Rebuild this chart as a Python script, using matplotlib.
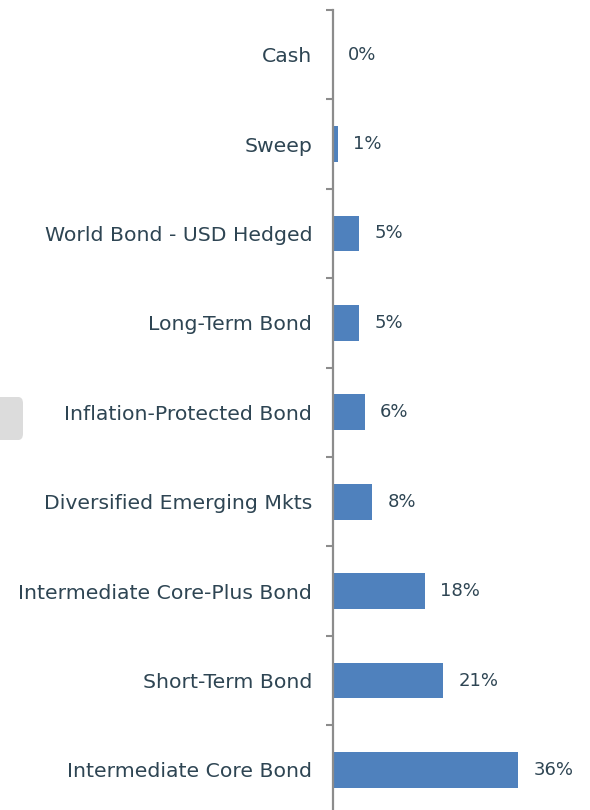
import matplotlib
matplotlib.use("Agg")
import matplotlib.pyplot as plt
from matplotlib.patches import FancyBboxPatch
import numpy as np

categories = ["Cash", "Sweep", "World Bond - USD Hedged", "Long-Term Bond",
              "Inflation-Protected Bond", "Diversified Emerging Mkts",
              "Intermediate Core-Plus Bond", "Short-Term Bond",
              "Intermediate Core Bond"]
values = [0.0, 1.0, 5.1, 5.1, 6.2, 7.6, 17.9, 21.4, 36.0]
value_labels = ["0%", "1%", "5%", "5%", "6%", "8%", "18%", "21%", "36%"]

TEXT = "#2E4553"
BAR = "#4F81BD"
SPINE = "#8C8C8C"

plt.rcParams['font.family'] = ['DejaVu Sans']

fig = plt.figure(figsize=(5.9, 8.1), dpi=100)
ax = fig.add_axes([333/590, 1 - 814.6/810, 1 - 333/590, 804.6/810])

y = np.arange(len(categories))
ax.barh(y, values, height=0.40, color=BAR, zorder=2)
ax.set_ylim(len(categories) - 0.5, -0.5)
ax.set_xlim(0, 257/5.14)

for yi, v, lab in zip(y, values, value_labels):
    ax.annotate(lab, (v, yi), xytext=(11, 0), textcoords="offset points",
                ha="left", va="center", fontsize=13, color=TEXT)

ax.set_yticks(y)
ax.set_yticklabels(categories, fontsize=14.7, color=TEXT)
ax.tick_params(axis="y", which="major", length=0, pad=15)
ax.set_yticks(np.arange(-0.5, len(categories), 1), minor=True)
ax.tick_params(axis="y", which="minor", length=5, width=1.5, color=SPINE, direction="out")
ax.set_xticks([])
for s in ["top", "right", "bottom"]:
    ax.spines[s].set_visible(False)
ax.spines["left"].set_color(SPINE)
ax.spines["left"].set_linewidth(1.6)

box = FancyBboxPatch((-10/590, 1 - 440/810), 33/590, 43/810,
                     boxstyle="round,pad=0,rounding_size=0.008",
                     transform=fig.transFigure, facecolor="#DCDCDC",
                     edgecolor="none")
fig.patches.append(box)

fig.savefig("out.png", dpi=100)
